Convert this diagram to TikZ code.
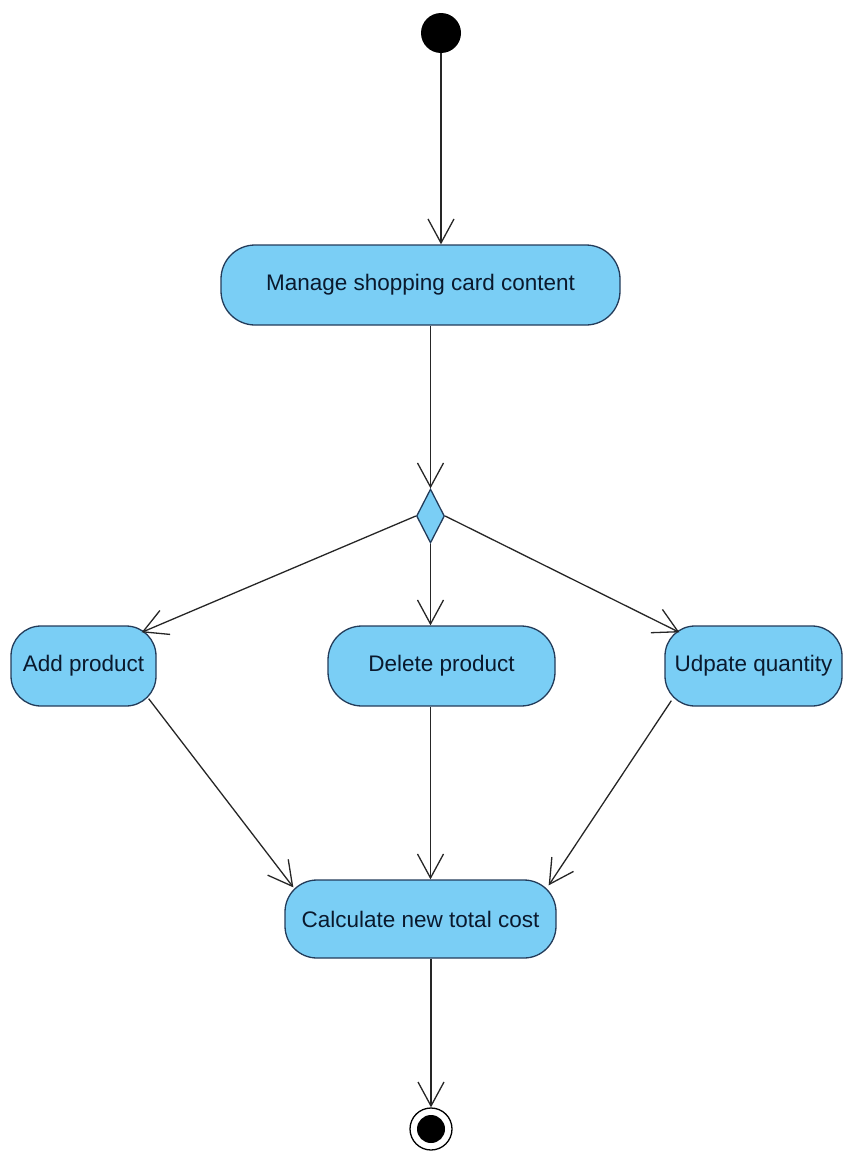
\documentclass[tikz,border=0pt]{standalone}
\usepackage{fontspec}
\setmainfont{Liberation Sans}
\usetikzlibrary{arrows.meta,shapes.geometric,calc}
\definecolor{actfill}{RGB}{122,206,245}
\definecolor{actline}{RGB}{35,60,90}
\definecolor{acttext}{RGB}{10,25,45}
\begin{document}
\begin{tikzpicture}[x=1pt,y=-1pt,
  act/.style={draw=actline,fill=actfill,line width=1.3pt,text=acttext,
    font=\fontsize{22.5}{27}\selectfont,inner sep=0pt},
  conn/.style={draw=black!85,line width=1.3pt,
    -{Straight Barb[length=24pt,width=26pt,line width=1.3pt]}},
]
\useasboundingbox (0,0) rectangle (843,1151);
% initial node
\node[circle,fill=black,minimum size=40pt,inner sep=0pt] (start) at (441,33) {};
% activities
\node[act,rounded corners=34pt,minimum width=399pt,minimum height=80pt] (m) at (420.5,285) {Manage shopping card content};
\node[diamond,draw=actline,fill=actfill,line width=1.3pt,minimum width=28pt,minimum height=54pt,inner sep=0pt] (dia) at (430.5,516) {};
\node[act,rounded corners=30pt,minimum width=145pt,minimum height=80pt] (add) at (83.5,666) {Add product};
\node[act,rounded corners=34pt,minimum width=227pt,minimum height=80pt] (del) at (441.5,666) {Delete product};
\node[act,rounded corners=30pt,minimum width=177pt,minimum height=80pt] (upd) at (753.5,666) {Udpate quantity};
\node[act,rounded corners=32pt,minimum width=271pt,minimum height=78pt] (calc) at (420.5,919) {Calculate new total cost};
% final node
\node[circle,draw=black,line width=1.3pt,fill=white,minimum size=42pt,inner sep=0pt] (final) at (431,1129) {};
\node[circle,fill=black,minimum size=28pt,inner sep=0pt] (finalin) at (final) {};
% connectors
\draw[conn] (start) -- (start |- m.north);
\draw[conn] (dia |- m.south) -- (dia.north);
\draw[conn] (dia.west) -- ([shift={(-15,7)}]add.north east);
\draw[conn] (dia.south) -- (dia |- del.north);
\draw[conn] (dia.east) -- ([shift={(15,7)}]upd.north west);
\draw[conn] ([shift={(-8,-8)}]add.south east) -- ([shift={(9,8)}]calc.north west);
\draw[conn] (dia |- del.south) -- (dia |- calc.north);
\draw[conn] ([shift={(7,-6)}]upd.south west) -- ([shift={(-8,6)}]calc.north east);
\draw[conn] (final |- calc.south) -- (final.north);
\end{tikzpicture}
\end{document}
